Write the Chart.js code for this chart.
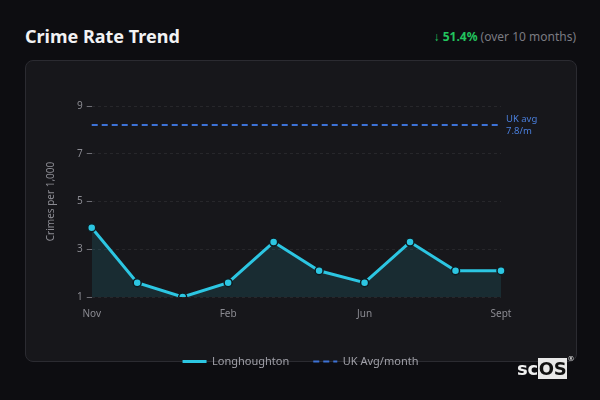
<!DOCTYPE html>
<html>
<head>
<meta charset="utf-8">
<script src="https://cdn.jsdelivr.net/npm/chart.js@4"></script>
<style>
  html, body { margin: 0; padding: 0; background: #0d0d11; width: 600px; height: 400px; overflow: hidden; font-family: "Noto Sans", sans-serif; }
  .title { position: absolute; left: 25px; top: 24px; color: #f2f2f4; font-size: 18px; font-weight: 700; }
  .change { position: absolute; right: 24px; top: 28px; font-size: 12px; color: #7b7b82; }
  .change b { color: #22c55e; }
  .card { position: absolute; left: 25px; top: 60px; width: 550px; height: 300px; background: #17171b; border: 1px solid #2b2b31; border-radius: 8px; }
  .wrap { position: absolute; left: 25px; top: 61px; width: 551px; height: 316px; }
  .logo { position: absolute; left: 517px; top: 358px; font-family: "DejaVu Sans", sans-serif; font-weight: 700; font-size: 18px; color: #f0f0f0; letter-spacing: -0.3px; }
  .logo span { background: #e8e8e8; color: #111; padding: 0 1px; }
  .logo sup { font-size: 7px; font-weight: 400; vertical-align: top; position: relative; top: -3px; }
</style>
</head>
<body>
<div class="title">Crime Rate Trend</div>
<div class="change"><b>↓ 51.4%</b> (over 10 months)</div>
<div class="card"></div>
<div class="wrap"><canvas id="chart"></canvas></div>
<div class="logo">sc<span>OS</span><sup>®</sup></div>
<script>
var months = ['Nov', 'Dec', 'Jan', 'Feb', 'Mar', 'Apr', 'Jun', 'Jul', 'Aug', 'Sept'];
var shownMonths = ['Nov', 'Feb', 'Jun', 'Sept'];
var crimeRate = [3.9, 1.6, 1.0, 1.6, 3.3, 2.1, 1.6, 3.3, 2.1, 2.1];
var ukAvgLevel = 8.2;
var ukAvgLabel = ['UK avg', '7.8/m'];
var yTicks = [1, 3, 5, 7, 9];

var ukAvg = months.map(function () { return ukAvgLevel; });

const avgLabel = {
  id: 'avgLabel',
  afterDatasetsDraw(chart) {
    const { ctx, chartArea: { right } } = chart;
    const y = chart.scales.y.getPixelForValue(ukAvgLevel);
    ctx.save();
    ctx.fillStyle = '#4a7fdc';
    ctx.font = '9.5px "Noto Sans"';
    ctx.textAlign = 'left';
    ctx.textBaseline = 'middle';
    ctx.fillText(ukAvgLabel[0], right + 5, y - 6);
    ctx.fillText(ukAvgLabel[1], right + 5, y + 6);
    ctx.restore();
  }
};

Chart.defaults.font.family = '"Noto Sans", sans-serif';
Chart.defaults.color = '#8b8b92';

new Chart(document.getElementById('chart'), {
  type: 'line',
  data: {
    labels: months,
    datasets: [{
      label: 'Longhoughton',
      data: crimeRate,
      borderColor: '#2cc6e2',
      backgroundColor: 'rgba(44,198,226,0.12)',
      borderWidth: 3,
      fill: 'start',
      tension: 0,
      pointRadius: 4,
      pointBackgroundColor: '#2cc6e2',
      pointBorderColor: '#0f1a1f',
      pointBorderWidth: 1.5
    }, {
      label: 'UK Avg/month',
      data: ukAvg,
      borderColor: '#3d72d6',
      borderWidth: 2,
      borderDash: [6, 4],
      pointRadius: 0,
      fill: false
    }]
  },
  options: {
    responsive: true,
    maintainAspectRatio: false,
    animation: false,
    layout: { padding: { top: 45, right: 16, left: 16, bottom: 0 } },
    scales: {
      x: {
        grid: { display: false },
        border: { display: false },
        afterFit: function (axis) { axis.height += 9; },
        ticks: {
          autoSkip: false,
          maxRotation: 0,
          font: { size: 10 },
          callback: function (v, i) {
            return shownMonths.indexOf(months[i]) >= 0 ? months[i] : null;
          }
        }
      },
      y: {
        min: 1,
        max: 9,
        afterBuildTicks: function (axis) {
          axis.ticks = yTicks.map(function (v) { return { value: v }; });
        },
        grid: { color: 'rgba(255,255,255,0.07)', tickColor: '#6e6e75', tickLength: 5 },
        border: { display: false, dash: [3, 3] },
        ticks: { font: { size: 10 }, padding: 4 },
        title: { display: true, text: 'Crimes per 1,000', font: { size: 10 }, color: '#8b8b92', padding: { top: 4, bottom: 16 } }
      },
      gutter: {
        position: 'right',
        min: 1,
        max: 9,
        grid: { display: false },
        border: { display: false },
        ticks: { display: false },
        afterFit: function (axis) { axis.width = 59; }
      }
    },
    plugins: {
      legend: {
        position: 'bottom',
        labels: {
          usePointStyle: true,
          pointStyle: 'line',
          pointStyleWidth: 24,
          boxHeight: 10,
          padding: 24,
          font: { size: 11 },
          color: '#a0a0a8',
          generateLabels: function (chart) {
            var items = Chart.defaults.plugins.legend.labels.generateLabels(chart);
            items.forEach(function (item, i) {
              var ds = chart.data.datasets[i];
              item.strokeStyle = ds.borderColor;
              item.lineWidth = ds.borderWidth;
              item.lineDash = ds.borderDash || [];
              item.pointStyle = 'line';
            });
            return items;
          }
        }
      },
      tooltip: { enabled: false }
    }
  },
  plugins: [avgLabel]
});
</script>
</body>
</html>
